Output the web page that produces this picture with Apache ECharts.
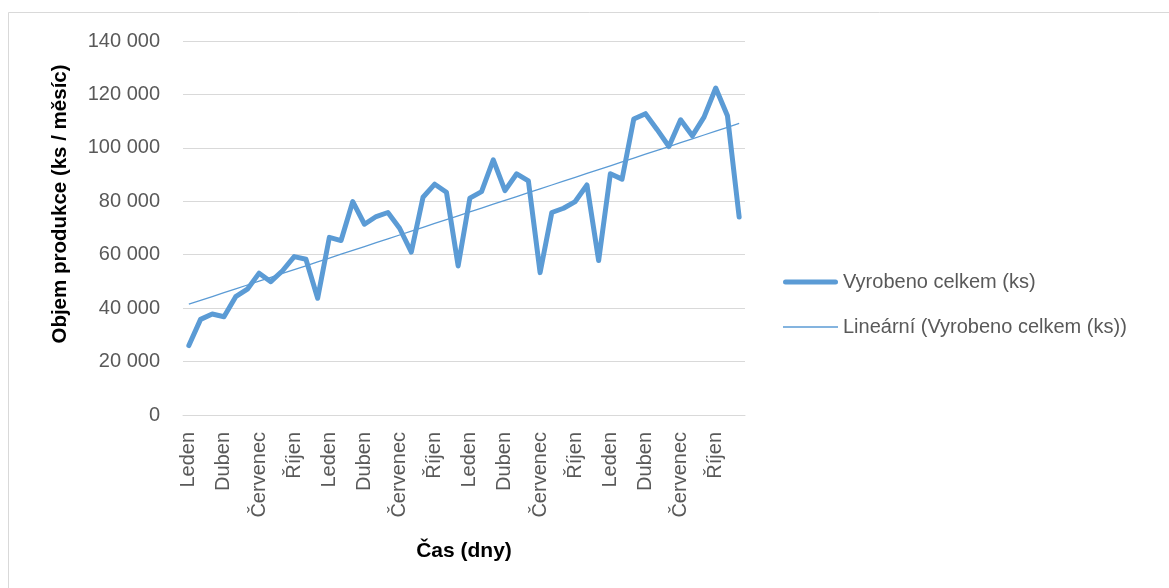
<!DOCTYPE html>
<html>
<head>
<meta charset="utf-8">
<script src="https://cdn.jsdelivr.net/npm/echarts@6/dist/echarts.min.js"></script>
<style>
html,body{margin:0;padding:0;background:#fff;}
#chart{width:1169px;height:588px;}
</style>
</head>
<body>
<div id="chart"></div>
<script>
const monthNames = ['Leden','Únor','Březen','Duben','Květen','Červen','Červenec','Srpen','Září','Říjen','Listopad','Prosinec'];
const years = 4;
const categories = [];
for (let y = 0; y < years; y++) for (const m of monthNames) categories.push(m);

const seriesName = 'Vyrobeno celkem (ks)';
const trendName = 'Lineární (Vyrobeno celkem (ks))';
const yTitle = 'Objem produkce (ks / měsíc)';
const xTitle = 'Čas (dny)';
const produced = [
  26000, 35800, 37800, 36800, 44300, 47100, 53100, 49900, 54000, 59300, 58300, 43700,
  66500, 65300, 79900, 71400, 74300, 75800, 69900, 61000, 81500, 86400, 83400, 55800,
  81200, 83600, 95500, 84000, 90300, 87600, 53300, 75800, 77400, 79900, 86100, 57800,
  90300, 88300, 110800, 112800, 106800, 100500, 110500, 104500, 111500, 122400, 112000, 74100
];
const yTicks = [0, 20000, 40000, 60000, 80000, 100000, 120000, 140000];

// Linear trendline (least squares) computed from the data, as Excel does
const n = produced.length;
let sx = 0, sy = 0, sxy = 0, sxx = 0;
produced.forEach((v, i) => { const x = i + 1; sx += x; sy += v; sxy += x * v; sxx += x * x; });
const slope = (n * sxy - sx * sy) / (n * sxx - sx * sx);
const intercept = (sy - slope * sx) / n;
const trend = produced.map((_, i) => intercept + slope * (i + 1));

const fmt = v => String(v).replace(/\B(?=(\d{3})+(?!\d))/g, ' ');
const FONT = 'Liberation Sans';

const chart = echarts.init(document.getElementById('chart'), null, {renderer: 'canvas'});
chart.setOption({
  animation: false,
  backgroundColor: '#ffffff',
  textStyle: {fontFamily: FONT},
  graphic: [
    {
      type: 'rect', silent: true, x: 0, y: 0,
      shape: {x: 8.5, y: 12.5, width: 1200, height: 620},
      style: {fill: 'none', stroke: '#d9d9d9', lineWidth: 1}
    },
    {
      type: 'text', silent: true, x: 60, y: 204, rotation: Math.PI / 2,
      style: {
        text: yTitle, fontFamily: FONT, fontSize: 20.5, fontWeight: 'bold', fill: '#000',
        align: 'center', verticalAlign: 'middle'
      }
    }
  ],
  grid: {left: 183, right: 424, top: 41, bottom: 173},
  legend: {
    orient: 'vertical', left: 778, top: 267,
    itemWidth: 55, itemHeight: 14, itemGap: 25,
    symbolKeepAspect: true,
    textStyle: {fontFamily: FONT, fontSize: 20, color: '#595959'},
    data: [
      {name: seriesName, icon: 'path://M2.5,0 L52.5,0 A2.5,2.5 0 0 1 52.5,5 L2.5,5 A2.5,2.5 0 0 1 2.5,0 Z', itemStyle: {color: '#5b9bd5'}},
      {name: trendName, icon: 'path://M0,0 L55,0 L55,1.3 L0,1.3 Z', itemStyle: {color: '#5b9bd5'}}
    ]
  },
  xAxis: {
    type: 'category', data: categories, boundaryGap: true,
    axisLine: {show: true, lineStyle: {color: '#d9d9d9', width: 1}},
    axisTick: {show: false},
    axisLabel: {rotate: 90, interval: 2, margin: 17, fontFamily: FONT, fontSize: 20, color: '#595959'},
    name: xTitle, nameLocation: 'middle', nameGap: 126,
    nameTextStyle: {fontFamily: FONT, fontSize: 21, fontWeight: 'bold', color: '#000'}
  },
  yAxis: {
    type: 'value', min: yTicks[0], max: yTicks[yTicks.length - 1], interval: 20000,
    axisLine: {show: false}, axisTick: {show: false},
    splitLine: {lineStyle: {color: '#d9d9d9', width: 1}},
    axisLabel: {formatter: v => fmt(v), margin: 23, fontFamily: FONT, fontSize: 20, color: '#595959'}
  },
  series: [
    {
      name: seriesName, type: 'line', data: produced, symbol: 'none', showSymbol: false,
      lineStyle: {color: '#5b9bd5', width: 5, cap: 'round', join: 'round'},
      itemStyle: {color: '#5b9bd5'}, z: 2
    },
    {
      name: trendName, type: 'line', data: trend, symbol: 'none', showSymbol: false,
      lineStyle: {color: '#5b9bd5', width: 1.3},
      itemStyle: {color: '#5b9bd5'}, z: 3
    }
  ]
});
</script>
</body>
</html>
